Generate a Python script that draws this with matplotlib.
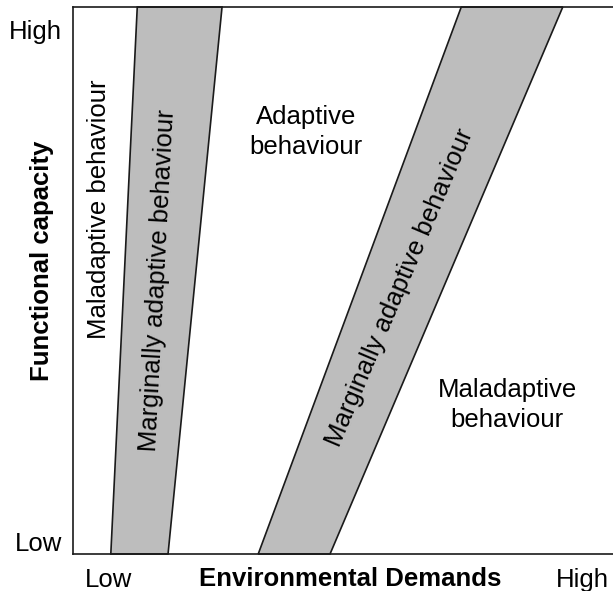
import matplotlib.pyplot as plt
from matplotlib.patches import Polygon

plt.rcParams['font.family'] = ['Liberation Sans', 'DejaVu Sans']

# bandas (x abajo izq, x abajo der, x arriba izq, x arriba der), en fraccion del eje
banda_baja = [0.070, 0.176, 0.119, 0.276]
banda_alta = [0.343, 0.476, 0.719, 0.907]

x_ticks = [0.066, 0.944]
x_labels = ['Low', 'High']
y_ticks = [0.022, 0.958]
y_labels = ['Low', 'High']

fig = plt.figure(figsize=(6.13, 5.91), dpi=100)
ax = fig.add_axes([73 / 613, 37 / 591, 540 / 613, 547 / 591])
ax.set_xlim(0, 1)
ax.set_ylim(0, 1)

for b in (banda_baja, banda_alta):
    pts = [(b[0], 0), (b[1], 0), (b[3], 1), (b[2], 1)]
    ax.add_patch(Polygon(pts, closed=True, facecolor='#bdbdbd', edgecolor='#1a1a1a',
                         linewidth=1.2, clip_on=False))

fs = 18.5
ax.text(0.048, 0.63, 'Maladaptive behaviour', rotation=90, ha='center', va='center', fontsize=fs)
ax.text(0.158, 0.501, 'Marginally adaptive behaviour', rotation=87, ha='center', va='center', fontsize=fs)
ax.text(0.432, 0.771, 'Adaptive\nbehaviour', ha='center', va='center', fontsize=fs, linespacing=1.3)
ax.text(0.606, 0.486, 'Marginally adaptive behaviour', rotation=67, ha='center', va='center', fontsize=fs)
ax.text(0.804, 0.272, 'Maladaptive\nbehaviour', ha='center', va='center', fontsize=fs, linespacing=1.3)

ax.set_xticks(x_ticks)
ax.set_xticklabels(x_labels, fontsize=fs)
ax.set_yticks(y_ticks)
ax.set_yticklabels(y_labels, fontsize=fs)
ax.tick_params(axis='y', length=0, pad=8)
ax.tick_params(axis='x', length=0, pad=10)

ax.text(0.513, -0.045, 'Environmental Demands', transform=ax.transAxes, ha='center', va='center',
        fontsize=fs, fontweight='bold')
ax.text(-0.057, 0.536, 'Functional capacity', transform=ax.transAxes, ha='center', va='center',
        rotation=90, fontsize=fs, fontweight='bold')

ax.spines['right'].set_visible(False)
for s in ('left', 'top', 'bottom'):
    ax.spines[s].set_linewidth(1.2)
    ax.spines[s].set_color('#1a1a1a')

fig.savefig('out.png', dpi=100)
